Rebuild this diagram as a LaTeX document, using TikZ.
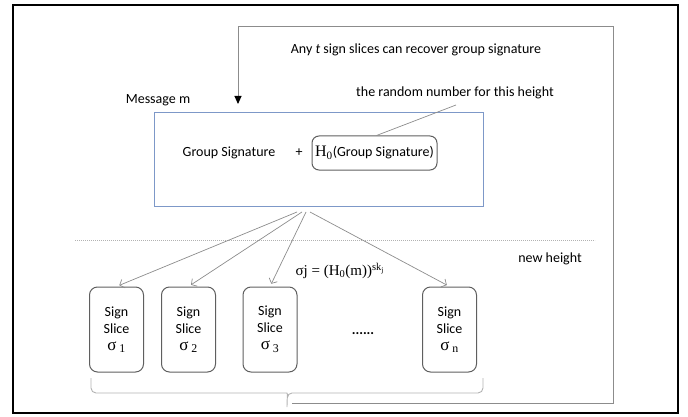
\documentclass[tikz,border=0pt]{standalone}
\usepackage{fontspec}
\setmainfont{Carlito}
\newfontfamily\timesfont{Liberation Serif}
\usetikzlibrary{arrows.meta}

\definecolor{msgblue}{RGB}{125,152,200}
\definecolor{boxgray}{RGB}{95,95,95}
\definecolor{wiregray}{RGB}{140,140,140}

\newcommand{\slicesig}[1]{{\timesfont\fontsize{17}{18}\selectfont σ\,\textsubscript{#1}}}

\begin{document}
\begin{tikzpicture}[x=1pt, y=-1pt,
  every node/.style={font=\fontsize{14}{17}\selectfont, inner sep=0pt},
  slice/.style={draw=boxgray, line width=1pt, rounded corners=8pt,
    minimum width=54pt, minimum height=85pt, align=center},
  fanarrow/.style={wiregray, line width=0.7pt,
    -{Straight Barb[length=4pt,width=9pt]}, shorten >=3pt},
  loopline/.style={wiregray, line width=0.9pt},
  bracepen/.style={gray!60, line width=0.9pt},
]
  \useasboundingbox (0,0) rectangle (688,417);
  \draw[line width=2pt] (13,5) rectangle (678,413);

  % message and its hash
  \node (msglabel) at (158,100) {Message m};
  \node[draw=msgblue, line width=0.9pt, minimum width=329pt, minimum height=94pt] (msg) at (318.5,159) {};
  \node (gs) at (229,153) {Group Signature};
  \node (plus) at (299,153) {+};
  \node[draw=boxgray, line width=1pt, rounded corners=7pt, minimum width=125pt, minimum height=34pt]
    (hash) at (374.5,153) {{\timesfont\fontsize{16}{17}\selectfont H\textsubscript{0}}(Group Signature)};
  \node (rand) at (455,93) {the random number for this height};
  \coordinate (randend) at (456,105);
  \draw[wiregray, line width=0.7pt] ([xshift=2pt]hash.north) -- (randend);

  \node (recover) at (416,50) {Any \textit{t} sign slices can recover group signature};

  % new height
  \draw[gray!60, line width=0.8pt, dash pattern=on 0.8pt off 1.2pt] (75,240) -- (595,240);
  \node (newh) at (550,259) {new height};
  \node (formula) at (340,271) {\timesfont\fontsize{15}{17}\selectfont σj = (H\textsubscript{0}(m))\textsuperscript{sk\textsubscript{j}}};

  \node[slice] (s1) at (116.5,329.5) {Sign\\Slice\\\slicesig{1}};
  \node[slice] (s2) at (188.5,329.5) {Sign\\Slice\\\slicesig{2}};
  \node[slice] (s3) at (270,329.5) {Sign\\Slice\\\slicesig{3}};
  \node (dots) at (363,334) {\textbf{......}};
  \node[slice] (sn) at (449.5,329.5) {Sign\\Slice\\\slicesig{n}};

  \coordinate (fan) at (303,212);
  \foreach \s/\dx in {s1/-6,s2/-1,s3/3,sn/7}
    \draw[fanarrow] ([xshift=\dx pt]fan) -- (\s.north);

  % brace under the slices, back up to the group signature
  \coordinate (braceL) at (91,378);
  \coordinate (braceR) at (483,378);
  \coordinate (bracetip) at (287,407);
  \draw[bracepen] (braceL) [rounded corners=5pt] |- (282,393) [sharp corners]
    to[out=0,in=90] (bracetip) to[out=90,in=180] (292,393)
    [rounded corners=5pt] -| (braceR);

  \coordinate (loopstart) at (292,403);
  \coordinate (loopne) at (613,26);
  \coordinate (gsin) at (238,104);
  \draw[loopline, -{Triangle[length=8pt,width=7pt,color=black]}] (loopstart) -| (loopne) -| (gsin);
\end{tikzpicture}
\end{document}
